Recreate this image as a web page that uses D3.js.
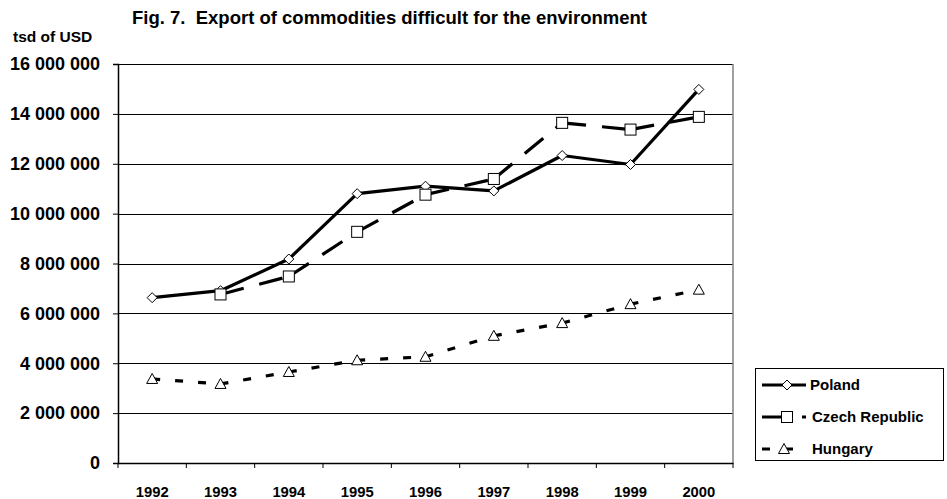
<!DOCTYPE html>
<html>
<head>
<meta charset="utf-8">
<script src="https://cdn.jsdelivr.net/npm/d3@7"></script>
<style>
  body { margin: 0; background: #fff; }
  text { font-family: "Liberation Sans", Arial, sans-serif; font-weight: bold; fill: #000; }
</style>
</head>
<body>
<div id="chart"></div>
<script>
// data, thousands of USD
var years = ["1992", "1993", "1994", "1995", "1996", "1997", "1998", "1999", "2000"];
var poland = [6630000, 6910000, 8180000, 10800000, 11100000, 10910000, 12330000, 11970000, 14980000];
var czech = [null, 6760000, 7480000, 9270000, 10760000, 11390000, 13640000, 13370000, 13880000];
var hungary = [3370000, 3170000, 3650000, 4120000, 4260000, 5100000, 5610000, 6370000, 6950000];
var yTicks = [0, 2000000, 4000000, 6000000, 8000000, 10000000, 12000000, 14000000, 16000000];

var series = [
  {name: "Poland", values: poland, marker: "diamond", dash: null},
  {name: "Czech Republic", values: czech, marker: "square", dash: "24,16"},
  {name: "Hungary", values: hungary, marker: "triangle", dash: "8,15"}
];

var width = 947, height = 499;
var plotL = 118, plotR = 733, plotT = 64, plotB = 463;

var svg = d3.select("#chart").append("svg")
  .attr("width", width)
  .attr("height", height);

var x = d3.scaleBand().domain(years).range([plotL, plotR]).padding(0);
var y = d3.scaleLinear().domain([0, 16000000]).range([plotB, plotT]);
var cx = function (yr) { return x(yr) + x.bandwidth() / 2; };

var fmt = function (v) { return d3.format(",")(v).replace(/,/g, " "); };

// title
svg.append("text")
  .attr("x", 132).attr("y", 24)
  .style("font-size", "18.5px")
  .attr("xml:space", "preserve")
  .text("Fig. 7.  Export of commodities difficult for the environment");

svg.append("text")
  .attr("x", 13).attr("y", 42)
  .style("font-size", "15.5px")
  .text("tsd of USD");

// gridlines
svg.append("g").selectAll("line")
  .data(yTicks.slice(1))
  .enter().append("line")
  .attr("x1", plotL).attr("x2", plotR)
  .attr("y1", function (d) { return Math.round(y(d)) + 0.5; })
  .attr("y2", function (d) { return Math.round(y(d)) + 0.5; })
  .attr("stroke", "#000").attr("stroke-width", 1);

// right border of plot area
svg.append("line")
  .attr("x1", plotR).attr("x2", plotR).attr("y1", plotT).attr("y2", plotB)
  .attr("stroke", "#808080").attr("stroke-width", 1.5);

// y axis
var yAxis = d3.axisLeft(y).tickValues(yTicks).tickSize(5).tickPadding(13).tickFormat(fmt);
var gy = svg.append("g").attr("transform", "translate(" + plotL + ",0)").call(yAxis);
gy.select(".domain").attr("stroke", "#000").attr("stroke-width", 1.5);
gy.selectAll(".tick line").attr("stroke", "#000");
gy.selectAll(".tick text")
  .style("font-size", "18px")
  .style("font-family", "'Liberation Sans', Arial, sans-serif")
  .style("font-weight", "bold")
  .attr("fill", "#000");

// x axis, ticks between categories
var xAxis = d3.axisBottom(x).tickSize(0);
var gx = svg.append("g").attr("transform", "translate(0," + plotB + ")").call(xAxis);
gx.select(".domain").attr("stroke", "#000").attr("stroke-width", 1.5);
gx.selectAll(".tick text")
  .attr("y", 34).attr("dy", 0)
  .style("font-size", "14.8px")
  .style("font-family", "'Liberation Sans', Arial, sans-serif")
  .style("font-weight", "bold")
  .attr("fill", "#000");
gx.selectAll(".sep")
  .data(years.concat(["end"]))
  .enter().append("line")
  .attr("class", "sep")
  .attr("x1", function (d, i) { return plotL + i * x.bandwidth(); })
  .attr("x2", function (d, i) { return plotL + i * x.bandwidth(); })
  .attr("y1", 0).attr("y2", 5)
  .attr("stroke", "#000");

// markers
function drawMarker(g, type, px, py) {
  if (type === "diamond") {
    g.append("path")
      .attr("d", "M" + px + "," + (py - 5) + "L" + (px + 5) + "," + py + "L" + px + "," + (py + 5) + "L" + (px - 5) + "," + py + "Z")
      .attr("fill", "#fff").attr("stroke", "#000").attr("stroke-width", 1);
  } else if (type === "square") {
    g.append("rect")
      .attr("x", px - 5.5).attr("y", py - 5.5).attr("width", 11).attr("height", 11)
      .attr("fill", "#fff").attr("stroke", "#000").attr("stroke-width", 1);
  } else {
    g.append("path")
      .attr("d", "M" + px + "," + (py - 5.5) + "L" + (px + 5.5) + "," + (py + 4.5) + "L" + (px - 5.5) + "," + (py + 4.5) + "Z")
      .attr("fill", "#fff").attr("stroke", "#000").attr("stroke-width", 1);
  }
}

// series: each segment drawn separately so the dash pattern restarts at each point
series.forEach(function (s) {
  var g = svg.append("g");
  var pts = [];
  s.values.forEach(function (v, i) { if (v !== null) pts.push([cx(years[i]), y(v)]); });
  for (var i = 0; i < pts.length - 1; i++) {
    g.append("line")
      .attr("x1", pts[i][0]).attr("y1", pts[i][1])
      .attr("x2", pts[i + 1][0]).attr("y2", pts[i + 1][1])
      .attr("stroke", "#000").attr("stroke-width", 3.2)
      .attr("stroke-dasharray", s.dash);
  }
  pts.forEach(function (p) { drawMarker(g, s.marker, p[0], p[1]); });
});

// legend
svg.append("rect")
  .attr("x", 755.5).attr("y", 368.5).attr("width", 188).attr("height", 92)
  .attr("fill", "#fff").attr("stroke", "#000").attr("stroke-width", 1);

var legY = [385, 417, 449];
var legTx = [810, 812, 812];
series.forEach(function (s, i) {
  var g = svg.append("g");
  g.append("line")
    .attr("x1", 762).attr("x2", 806).attr("y1", legY[i]).attr("y2", legY[i])
    .attr("stroke", "#000").attr("stroke-width", 3.2)
    .attr("stroke-dasharray", s.dash);
  drawMarker(g, s.marker, i === 2 ? 784 : 787, legY[i]);
  g.append("text")
    .attr("x", legTx[i]).attr("y", legY[i] + 5)
    .style("font-size", "15px")
    .text(s.name);
});
</script>
</body>
</html>
